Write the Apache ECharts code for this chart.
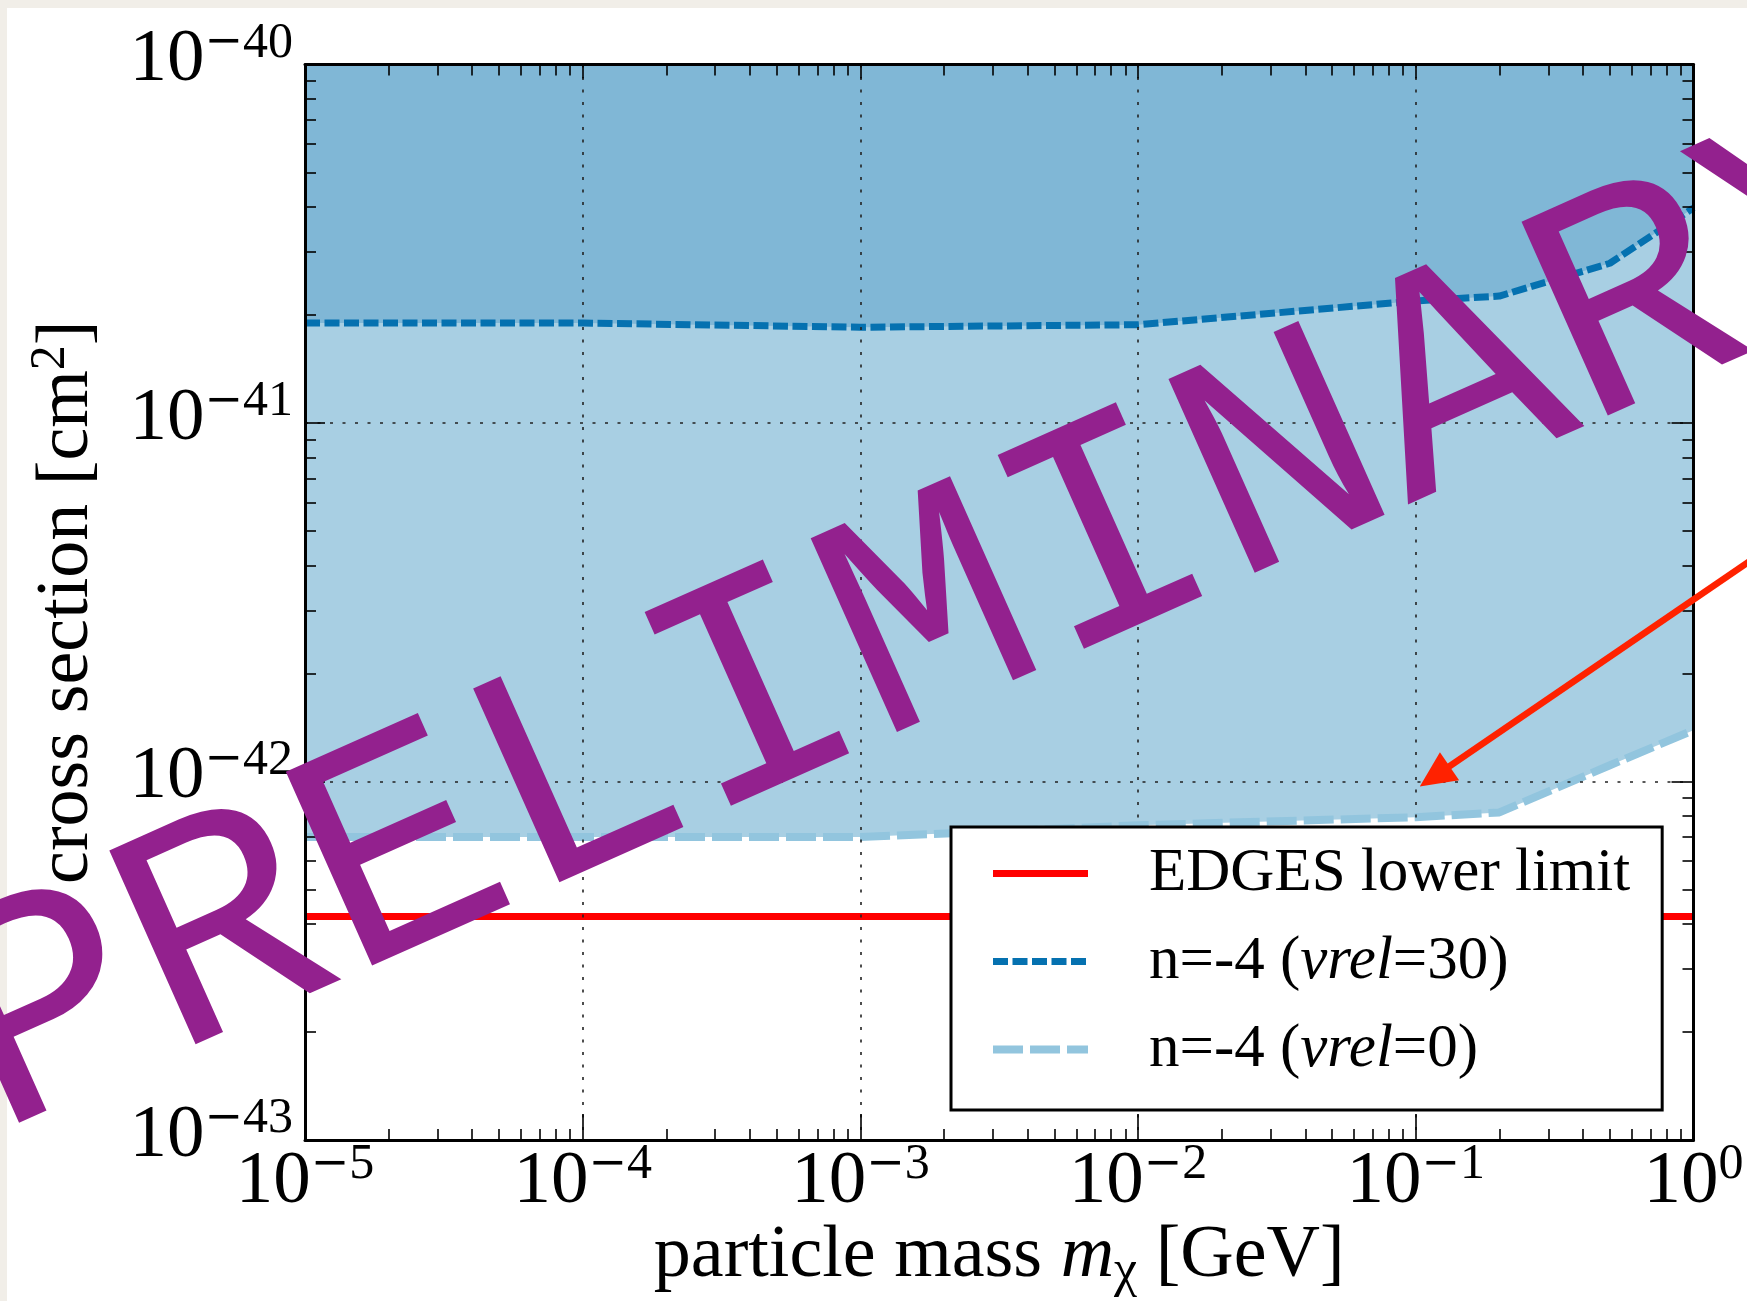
<!DOCTYPE html>
<html><head><meta charset="utf-8">
<script src="https://cdn.jsdelivr.net/npm/echarts@6/dist/echarts.min.js"></script>
<style>
html,body{margin:0;padding:0;background:#f1eee8;width:1747px;height:1301px;overflow:hidden;}
#paper{position:absolute;left:7px;top:8px;width:1740px;height:1293px;background:#fff;}
#chart{position:absolute;left:0;top:0;width:1747px;height:1301px;}
</style></head><body>
<div id="paper"></div><div id="chart"></div>
<script>
// ---- data ----
const massGeV      = [1e-5, 1e-4, 1e-3, 1e-2, 1e-1, 2e-1, 5e-1, 1];
const sigmaVrel30  = [1.90e-41, 1.90e-41, 1.85e-41, 1.88e-41, 2.19e-41, 2.26e-41, 2.79e-41, 3.98e-41];
const sigmaVrel0   = [7.00e-43, 7.00e-43, 7.00e-43, 7.55e-43, 7.95e-43, 8.20e-43, 1.11e-42, 1.39e-42];
const edgesMass    = [1e-5, 1];
const edgesLimit   = [4.2e-43, 4.2e-43];
const xMajorTicks  = [1e-5, 1e-4, 1e-3, 1e-2, 1e-1, 1];
const yMajorTicks  = [1e-43, 1e-42, 1e-41, 1e-40];
const minorMults   = [2, 3, 4, 5, 6, 7, 8, 9];
const arrowTarget  = [1e-1, 1e-42];
const seriesNames  = ['EDGES lower limit', 'n=-4 (vrel=30)', 'n=-4 (vrel=0)'];
const watermark    = 'PRELIMINARY';

const X_MIN = xMajorTicks[0], X_MAX = xMajorTicks[xMajorTicks.length-1];
const Y_MIN = yMajorTicks[0], Y_MAX = yMajorTicks[yMajorTicks.length-1];
function minorsOf(majors){ const out=[]; for(let i=0;i<majors.length-1;i++){ for(const m of minorMults){ out.push(+(m*majors[i]).toPrecision(6)); } } return out; }
const xMinorTicks = minorsOf(xMajorTicks);
// y decorations are drawn on an exponent (log10) axis spanning exactly the same range as the log axis
const yMinorExp = minorsOf(yMajorTicks).map(v=>Math.log10(v));
const yMajorExp = yMajorTicks.map(v=>Math.round(Math.log10(v)));
const zip = (a,b)=>a.map((v,i)=>[v,b[i]]);

const SERIF = '"Liberation Serif", "Times New Roman", serif';
const richPow = {
  b:{fontFamily:SERIF, fontSize:75, lineHeight:75, color:'#000', padding:[0,0,8,0]},
  m:{fontFamily:'"DejaVu Serif", serif', fontSize:46, lineHeight:46, color:'#000', padding:[0,0,42,0]},
  s:{fontFamily:SERIF, fontSize:50, lineHeight:50, color:'#000', padding:[0,0,42,0]}
};
function powText(e){ return '{b|10}'+(e<0?'{m|\u2212}':'')+'{s|'+Math.abs(e)+'}'; }
const powLabel = v => powText(Math.round(Math.log10(v)));
const expLabel = v => powText(Math.round(v));

const chart = echarts.init(document.getElementById('chart'), null, {renderer:'canvas'});
const blackLine = {color:'#000', width:3};
const tickStyle = {color:'#000', width:1.6};
const gridDots = {color:'#222', width:1.6, type:[3,9.5]};

function bare(extra){ return Object.assign({gridIndex:0, z:3,
  axisLine:{show:false, onZero:false}, axisTick:{show:false}, axisLabel:{show:false},
  splitLine:{show:false}, minorTick:{show:false}, minorSplitLine:{show:false}, axisPointer:{show:false}}, extra); }
const xLog = e => bare(Object.assign({type:'log', logBase:10, min:X_MIN, max:X_MAX}, e));
const yLog = e => bare(Object.assign({type:'log', logBase:10, min:Y_MIN, max:Y_MAX}, e));
const yExp = e => bare(Object.assign({type:'value', min:yMajorExp[0], max:yMajorExp[yMajorExp.length-1], interval:1}, e));

const option = {
  animation:false,
  backgroundColor:'transparent',
  grid:{left:305, right:53.5, top:64.5, bottom:161, containLabel:false, outerBoundsMode:'none'},
  xAxis:[
    xLog({position:'bottom',
      name:'particle mass {i|m}{sub|\u03c7} [GeV]', nameLocation:'middle', nameGap:80, nameMoveOverlap:false,
      nameTextStyle:{fontFamily:SERIF, fontSize:74, color:'#000', lineHeight:74,
        rich:{i:{fontFamily:SERIF, fontStyle:'italic', fontSize:74, lineHeight:74, color:'#000'},
              sub:{fontFamily:SERIF, fontSize:52, lineHeight:52, color:'#000', padding:[30,0,0,0]}}},
      axisLine:{show:true, onZero:false, lineStyle:blackLine},
      axisTick:{show:true, inside:true, length:26, lineStyle:tickStyle, customValues:xMajorTicks},
      axisLabel:{show:true, margin:46, verticalAlign:'middle', formatter:powLabel, rich:richPow, customValues:xMajorTicks, hideOverlap:false},
      splitLine:{show:true, lineStyle:gridDots}}),
    xLog({position:'bottom', axisTick:{show:true, inside:true, length:11, lineStyle:tickStyle, customValues:xMinorTicks}}),
    xLog({position:'top', axisLine:{show:true, onZero:false, lineStyle:blackLine},
      axisTick:{show:true, inside:true, length:14, lineStyle:tickStyle, customValues:xMajorTicks}}),
    xLog({position:'top', axisTick:{show:true, inside:true, length:11, lineStyle:tickStyle, customValues:xMinorTicks}})
  ],
  yAxis:[
    yLog({position:'left'}),
    yExp({position:'left',
      name:'cross section [cm{sup|2}]', nameLocation:'middle', nameGap:200, nameRotate:90, nameMoveOverlap:false,
      nameTextStyle:{fontFamily:SERIF, fontSize:74, color:'#000', lineHeight:74,
        rich:{sup:{fontFamily:SERIF, fontSize:50, lineHeight:50, color:'#000', padding:[0,0,34,0]}}},
      axisLine:{show:true, onZero:false, lineStyle:blackLine},
      axisTick:{show:true, inside:true, length:20, lineStyle:tickStyle},
      axisLabel:{show:true, margin:12, formatter:expLabel, rich:richPow, hideOverlap:false, showMinLabel:true, showMaxLabel:true},
      splitLine:{show:true, lineStyle:gridDots}}),
    yExp({position:'left', axisTick:{show:true, inside:true, length:11, lineStyle:tickStyle, customValues:yMinorExp}}),
    yExp({position:'right', axisLine:{show:true, onZero:false, lineStyle:blackLine},
      axisTick:{show:true, inside:true, length:22, lineStyle:tickStyle}}),
    yExp({position:'right', axisTick:{show:true, inside:true, length:11, lineStyle:tickStyle, customValues:yMinorExp}})
  ],
  legend:{
    orient:'vertical', left:951, top:827,
    data:[{name:seriesNames[0], lineStyle:{width:7}}, {name:seriesNames[1], lineStyle:{width:7}}, {name:seriesNames[2], lineStyle:{width:8}}],
    selectedMode:false,
    backgroundColor:'#fff', borderColor:'#000', borderWidth:3, borderRadius:0,
    padding:[16,32,30,38], itemGap:27, itemWidth:95, itemHeight:14, z:10,
    itemStyle:{opacity:0},
    textStyle:{fontFamily:SERIF, fontSize:61, lineHeight:61, color:'#000', padding:[0,0,0,56],
      rich:{n:{fontFamily:SERIF, fontSize:61, lineHeight:61, color:'#000'},
            i:{fontFamily:SERIF, fontStyle:'italic', fontSize:61, lineHeight:61, color:'#000'}}},
    formatter:function(name){
      const m = name.match(/^(n=-4 \()vrel(=\d+\))$/);
      if(m) return '{n|'+m[1]+'}{i|vrel}{n|'+m[2]+'}';
      return '{n|'+name+'}';
    }
  },
  series:[
    {name:seriesNames[2], type:'line', xAxisIndex:0, yAxisIndex:0, data:zip(massGeV, sigmaVrel0),
      symbol:'none', showSymbol:false, z:2,
      itemStyle:{color:'#92c5de'}, lineStyle:{color:'#92c5de', width:8, type:[30,7]},
      areaStyle:{color:'#a8cfe3', opacity:1, origin:Y_MAX}},
    {name:seriesNames[1], type:'line', xAxisIndex:0, yAxisIndex:0, data:zip(massGeV, sigmaVrel30),
      symbol:'none', showSymbol:false, z:2,
      itemStyle:{color:'#0571b0'}, lineStyle:{color:'#0571b0', width:7, type:[15,4.5]},
      areaStyle:{color:'#80b7d6', opacity:1, origin:Y_MAX}},
    {name:seriesNames[0], type:'line', xAxisIndex:0, yAxisIndex:0, data:zip(edgesMass, edgesLimit),
      symbol:'none', showSymbol:false, z:2,
      itemStyle:{color:'#ff0000'}, lineStyle:{color:'#ff0000', width:7}}
  ]
};
chart.setOption(option);

// annotations: arrow toward (0.1 GeV, 1e-42) and PRELIMINARY watermark
const tip = chart.convertToPixel({xAxisIndex:0, yAxisIndex:0}, arrowTarget);
tip[0] += 4; tip[1] += 5;
let dx = 327, dy = -223.4; const dl = Math.hypot(dx,dy); dx/=dl; dy/=dl;
const headLen = 36, headHalf = 17;
const base = [tip[0]+dx*headLen, tip[1]+dy*headLen];
const px = -dy, py = dx;
const tail = [tip[0]+dx*700, tip[1]+dy*700];
chart.setOption({graphic:[
  {type:'line', z:50, shape:{x1:base[0]-dx*4, y1:base[1]-dy*4, x2:tail[0], y2:tail[1]}, style:{stroke:'#ff2200', lineWidth:6.5}},
  {type:'polygon', z:50, shape:{points:[tip,[base[0]+px*headHalf, base[1]+py*headHalf],[base[0]-px*headHalf, base[1]-py*headHalf]]}, style:{fill:'#ff2200'}},
  {type:'text', z:100, x:932, y:623, rotation:24*Math.PI/180,
    style:{text:watermark, fontFamily:'"Liberation Mono", "DejaVu Sans Mono", monospace', fontSize:322, fontWeight:'normal',
      fill:'#93218e', align:'center', verticalAlign:'middle', textAlign:'center', textVerticalAlign:'middle'}}
]});
</script>
</body></html>
